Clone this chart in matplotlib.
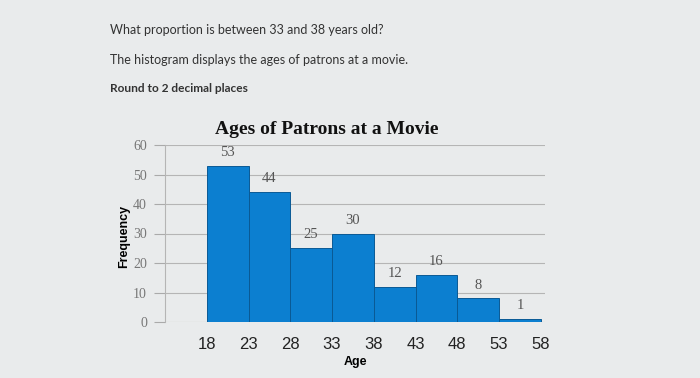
import matplotlib.pyplot as plt

# histogram data
bin_edges = [18, 23, 28, 33, 38, 43, 48, 53, 58]
counts = [53, 44, 25, 30, 12, 16, 8, 1]
y_ticks = [0, 10, 20, 30, 40, 50, 60]

bg = "#e9ebec"
fig = plt.figure(figsize=(7, 3.78), dpi=100, facecolor=bg)

# question text above the chart
fig.text(110 / 700, 1 - 30 / 378, "What proportion is between 33 and 38 years old?",
         family="Lato", fontsize=9, color="#333333", va="center")
fig.text(110 / 700, 1 - 60 / 378, "The histogram displays the ages of patrons at a movie.",
         family="Lato", fontsize=9, color="#333333", va="center")
fig.text(110 / 700, 1 - 88 / 378, "Round to 2 decimal places",
         family="Lato", fontsize=8.6, fontweight="bold", color="#333333", va="center")

ax = fig.add_axes([165 / 700, 1 - 322 / 378, 380 / 700, 177 / 378])
ax.set_facecolor(bg)

widths = [bin_edges[i + 1] - bin_edges[i] for i in range(len(counts))]
ax.bar(bin_edges[:-1], counts, width=widths, align="edge",
       color="#0c7fd0", edgecolor="#0a5a95", linewidth=0.7, zorder=3)

for left, w, c in zip(bin_edges[:-1], widths, counts):
    ax.text(left + w / 2, c + 2.3, str(c), ha="center", va="bottom",
            family="Liberation Serif", fontsize=10.5, color="#555555", zorder=4)

ax.set_xlim(13, 58.5)
ax.set_ylim(0, 60)
ax.set_xticks(bin_edges)
ax.set_xticklabels([str(b) for b in bin_edges], family="Liberation Sans", fontsize=12, color="#222222")
ax.set_yticks(y_ticks)
ax.set_yticklabels([str(t) for t in y_ticks], family="Liberation Serif", fontsize=10, color="#777777")
ax.tick_params(axis="x", length=0, pad=11)
ax.tick_params(axis="y", length=8, color="#aaaaaa", pad=5)
ax.grid(axis="y", color="#b5b5b5", linewidth=0.8, zorder=0)

for s in ["top", "right", "bottom"]:
    ax.spines[s].set_visible(False)
ax.spines["left"].set_color("#b5b5b5")

fig.text(327 / 700, 1 - 130 / 378, "Ages of Patrons at a Movie", family="Liberation Serif",
         fontweight="bold", fontsize=14, color="#111111", ha="center", va="center")
ax.set_xlabel("Age", family="Liberation Sans", fontweight="bold", fontsize=9, labelpad=3)
fig.text(124 / 700, 1 - 236 / 378, "Frequency", family="Liberation Sans", fontweight="bold",
         fontsize=9, rotation=90, ha="center", va="center")

fig.savefig("out.png", dpi=100, facecolor=bg)
